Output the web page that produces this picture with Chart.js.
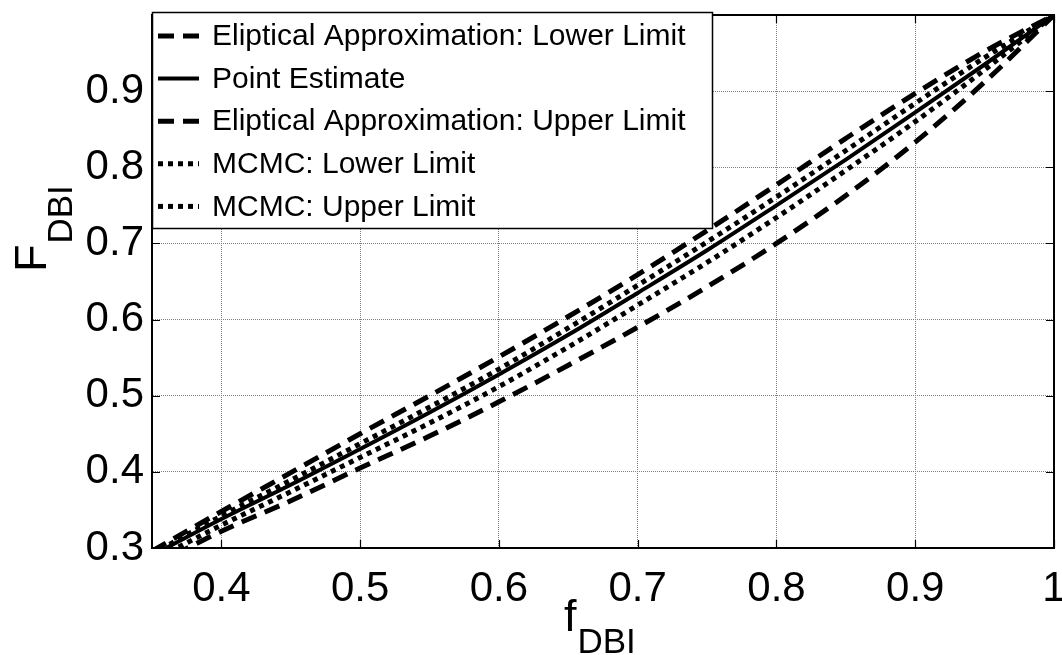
<!DOCTYPE html>
<html>
<head>
<meta charset="utf-8">
<script src="https://cdn.jsdelivr.net/npm/chart.js@4.4.1/dist/chart.umd.min.js"></script>
<style>
  html, body { margin: 0; padding: 0; background: #ffffff; }
  #wrap { position: relative; width: 1062px; height: 655px; }
  canvas { display: block; }
</style>
</head>
<body>
<div id="wrap"><canvas id="c" width="1062" height="655"></canvas></div>
<script>
// ---- data ----
const xValues       = [0.35, 0.40, 0.45, 0.50, 0.55, 0.60, 0.65, 0.70, 0.75, 0.80, 0.85, 0.90, 0.95, 1.00];
const ellipLower    = [0.276, 0.322, 0.362, 0.405, 0.447, 0.492, 0.540, 0.590, 0.643, 0.700, 0.763, 0.833, 0.912, 1.000];
const pointEstimate = [0.290, 0.338, 0.383, 0.430, 0.478, 0.528, 0.580, 0.635, 0.691, 0.750, 0.810, 0.872, 0.935, 1.000];
const ellipUpper    = [0.296, 0.348, 0.399, 0.450, 0.500, 0.551, 0.604, 0.659, 0.717, 0.777, 0.838, 0.897, 0.952, 1.000];
const mcmcLower     = [0.283, 0.330, 0.374, 0.419, 0.464, 0.512, 0.564, 0.619, 0.675, 0.734, 0.796, 0.860, 0.928, 1.000];
const mcmcUpper     = [0.292, 0.342, 0.389, 0.437, 0.485, 0.535, 0.589, 0.645, 0.702, 0.761, 0.822, 0.884, 0.944, 1.000];
const seriesLabels  = ['Eliptical Approximation: Lower Limit', 'Point Estimate', 'Eliptical Approximation: Upper Limit', 'MCMC: Lower Limit', 'MCMC: Upper Limit'];
const xTicks        = [0.4, 0.5, 0.6, 0.7, 0.8, 0.9, 1.0];
const yTicks        = [0.3, 0.4, 0.5, 0.6, 0.7, 0.8, 0.9];
const xTitle        = ['f', 'DBI'];
const yTitle        = ['F', 'DBI'];

const FONT = '"Liberation Sans", Arial, Helvetica, sans-serif';
const DASHED = [16, 9], DOTTED = [5, 5];

function pts(ys) { return xValues.map((x, i) => ({ x: x, y: ys[i] })); }
function ds(label, ys, dash, width) {
  return {
    label: label, data: pts(ys), borderColor: '#000000', backgroundColor: '#000000',
    borderWidth: width, borderDash: dash, borderCapStyle: 'butt', borderJoinStyle: 'round',
    pointRadius: 0, pointHoverRadius: 0, fill: false, cubicInterpolationMode: 'monotone', clip: 0
  };
}

const datasets = [
  ds(seriesLabels[0], ellipLower, DASHED, 5),
  ds(seriesLabels[1], pointEstimate, [], 4),
  ds(seriesLabels[2], ellipUpper, DASHED, 5),
  ds(seriesLabels[3], mcmcLower, DOTTED, 5),
  ds(seriesLabels[4], mcmcUpper, DOTTED, 5)
];

const decorations = {
  id: 'decorations',
  afterDraw(chart) {
    const ctx = chart.ctx;
    const a = chart.chartArea;
    const xs = chart.scales.x, ys = chart.scales.y;
    ctx.save();
    // frame
    ctx.strokeStyle = '#000'; ctx.lineWidth = 2; ctx.setLineDash([]);
    ctx.strokeRect(a.left, a.top, a.right - a.left, a.bottom - a.top);
    // inward ticks
    ctx.lineWidth = 1.2;
    ctx.beginPath();
    xTicks.forEach(v => {
      const px = Math.round(xs.getPixelForValue(v)) + 0.5;
      ctx.moveTo(px, a.bottom); ctx.lineTo(px, a.bottom - 8);
      ctx.moveTo(px, a.top); ctx.lineTo(px, a.top + 8);
    });
    yTicks.forEach(v => {
      const py = Math.round(ys.getPixelForValue(v)) + 0.5;
      ctx.moveTo(a.left, py); ctx.lineTo(a.left + 8, py);
      ctx.moveTo(a.right, py); ctx.lineTo(a.right - 8, py);
    });
    ctx.stroke();

    // legend
    const lx = 152.5, ly = 12.5, lw = 560, lh = 216;
    ctx.fillStyle = '#fff';
    ctx.fillRect(lx, ly, lw, lh);
    ctx.strokeStyle = '#000'; ctx.lineWidth = 1.5;
    ctx.strokeRect(lx, ly, lw, lh);
    ctx.font = '30px ' + FONT;
    ctx.textBaseline = 'middle'; ctx.textAlign = 'left';
    chart.data.datasets.forEach((d, i) => {
      const cy = 36 + i * 42.6;
      ctx.strokeStyle = '#000';
      ctx.lineWidth = d.borderWidth;
      ctx.setLineDash(d.borderDash || []);
      ctx.lineCap = 'butt';
      ctx.beginPath();
      ctx.moveTo(158, cy); ctx.lineTo(199, cy);
      ctx.stroke();
      ctx.setLineDash([]);
      ctx.fillStyle = '#000';
      ctx.fillText(d.label, 212, cy + 1);
    });

    // axis titles with subscripts
    ctx.fillStyle = '#000';
    ctx.textBaseline = 'alphabetic'; ctx.textAlign = 'left';
    ctx.font = '45px ' + FONT;
    const wf = ctx.measureText(xTitle[0]).width;
    ctx.fillText(xTitle[0], 564, 631);
    ctx.font = '35px ' + FONT;
    ctx.fillText(xTitle[1], 564 + wf + 1, 653);

    ctx.translate(46, 272);
    ctx.rotate(-Math.PI / 2);
    ctx.font = '45px ' + FONT;
    const wF = ctx.measureText(yTitle[0]).width;
    ctx.fillText(yTitle[0], 0, 0);
    ctx.font = '35px ' + FONT;
    ctx.fillText(yTitle[1], wF + 1, 26);
    ctx.restore();
  }
};

new Chart(document.getElementById('c'), {
  type: 'line',
  data: { datasets: datasets },
  options: {
    responsive: false,
    animation: false,
    events: [],
    layout: { padding: { top: 15, right: 8, left: 0, bottom: 0 } },
    plugins: { legend: { display: false }, tooltip: { enabled: false }, title: { display: false } },
    scales: {
      x: {
        type: 'linear', min: 0.35, max: 1.0,
        afterBuildTicks: s => { s.ticks = xTicks.map(v => ({ value: v })); },
        afterFit: s => { s.height = 107; s.paddingLeft = 0; s.paddingRight = 0; },
        ticks: {
          color: '#000', font: { family: FONT, size: 42 }, padding: 16, maxRotation: 0, autoSkip: false,
          callback: v => (Math.abs(v - 1) < 1e-9 ? '1' : v.toFixed(1))
        },
        grid: { color: '#808080', lineWidth: 1, drawTicks: false, tickLength: 0 },
        border: { display: true, color: '#000', width: 2, dash: [1, 1] }
      },
      y: {
        type: 'linear', min: 0.3, max: 1.0,
        afterBuildTicks: s => { s.ticks = yTicks.map(v => ({ value: v })); },
        afterFit: s => { s.width = 152; s.paddingTop = 0; s.paddingBottom = 0; },
        ticks: {
          color: '#000', font: { family: FONT, size: 42 }, padding: 8, autoSkip: false,
          callback: v => v.toFixed(1)
        },
        grid: { color: '#808080', lineWidth: 1, drawTicks: false, tickLength: 0 },
        border: { display: true, color: '#000', width: 2, dash: [1, 1] }
      }
    }
  },
  plugins: [decorations]
});
</script>
</body>
</html>
